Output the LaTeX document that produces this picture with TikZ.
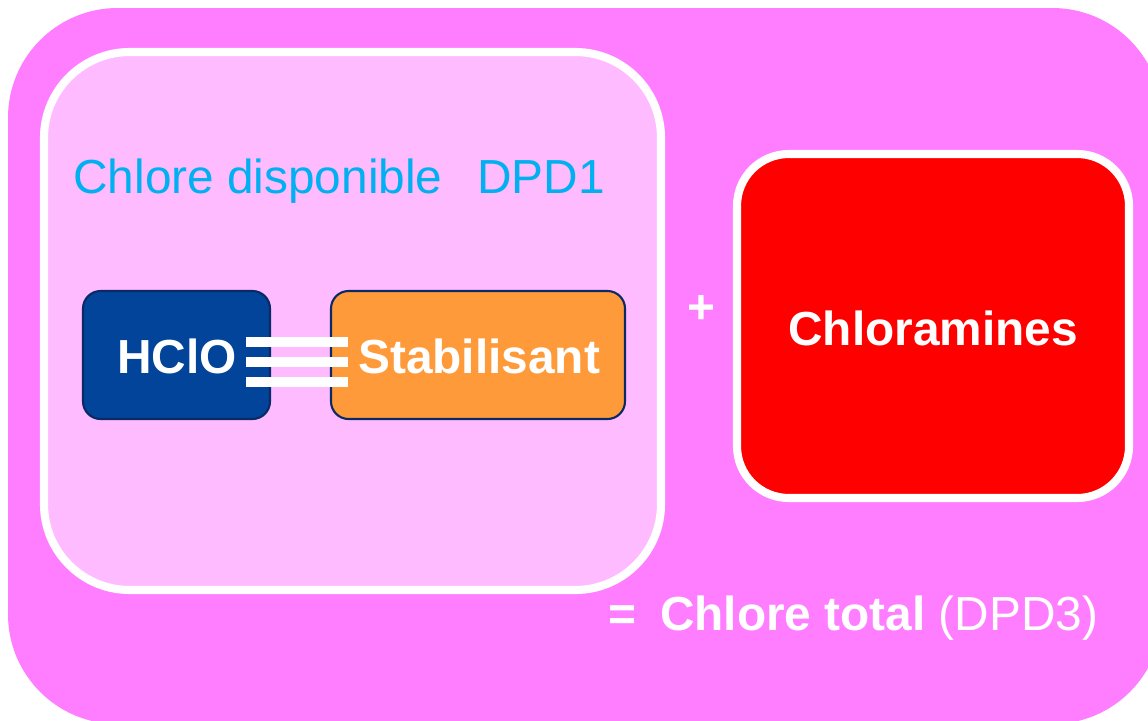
\documentclass[tikz,border=0pt]{standalone}
\usepackage{fontspec}
\setmainfont{Liberation Sans}
\definecolor{outerpink}{HTML}{FF7DFF}
\definecolor{innerpink}{HTML}{FFBBFF}
\definecolor{cyantxt}{HTML}{00B0F0}
\definecolor{hblue}{HTML}{02449A}
\definecolor{navy}{HTML}{0A2A66}
\definecolor{orng}{HTML}{FF9A3A}
\tikzset{
  bigtxt/.style={font=\fontsize{27.2}{32}\selectfont, inner sep=0pt, anchor=base west},
  boldtxt/.style={bigtxt, font=\fontsize{27.2}{32}\selectfont\bfseries, text=white},
  smallbox/.style={draw=navy, line width=1.2pt, rounded corners=10pt},
  bar/.style={fill=white, draw=none}
}
\begin{document}
\begin{tikzpicture}[x=0.02cm, y=-0.02cm]
\useasboundingbox (0,0) rectangle (1148,720);
\clip (0,0) rectangle (1148,720);
% outer box
\fill[outerpink, rounded corners=62.4pt] (8,8) rectangle (1162,724);
% inner box
\draw[fill=innerpink, draw=white, line width=4.6pt, rounded corners=48.8pt] (44,52) rectangle (661,590);
% red box
\draw[fill=red, draw=white, line width=4.6pt, rounded corners=29.5pt] (737,154) rectangle (1129,498);
% small boxes
\draw[smallbox, fill=hblue] (83,291) rectangle (270,419);
\draw[smallbox, fill=orng] (331,291) rectangle (625,419);
% equals bars
\fill[bar] (246,337) rectangle (348,347);
\fill[bar] (246,357) rectangle (348,367);
\fill[bar] (246,377) rectangle (348,387);
% texts
\node[bigtxt, text=cyantxt] (cd) at (73,193) {Chlore disponible};
\node[bigtxt, text=cyantxt] (dpd1) at (477,193) {DPD1};
\node[boldtxt] (hclo) at (117,373) {HClO};
\node[boldtxt] (stab) at (358,373) {Stabilisant};
\node[boldtxt] (plus) at (687,323) {+};
\node[boldtxt] (chloram) at (788,345) {Chloramines};
\node[boldtxt] (eq) at (608,630) {=\hspace{0.5em}Chlore total \mdseries(DPD3)};
\end{tikzpicture}
\end{document}
